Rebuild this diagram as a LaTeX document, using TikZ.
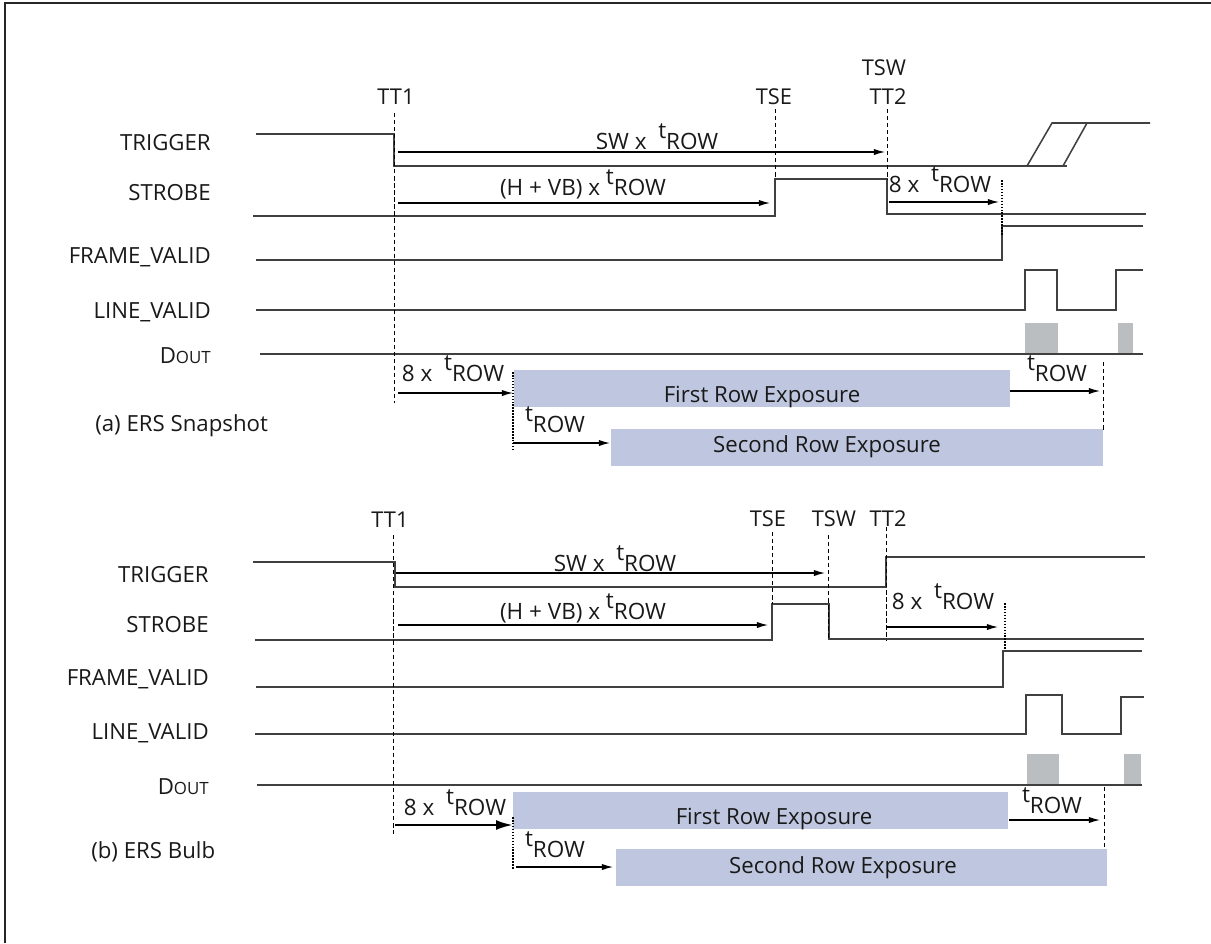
\documentclass[tikz,border=0pt]{standalone}
\usepackage{fontspec}
\setmainfont{Open Sans}
\usetikzlibrary{arrows.meta,positioning}
\definecolor{expblue}{HTML}{BFC7E0}
\definecolor{datgray}{HTML}{BBBEC0}
\newcommand{\trow}{\raisebox{0.85ex}{t}ROW}
\newcommand{\dout}{D{\fontsize{12}{14}\selectfont OUT}}

\begin{document}
\begin{tikzpicture}[x=0.025cm, y=-0.025cm, >={Latex[length=8pt,width=4.5pt]},
  every node/.style={inner sep=0pt, font=\fontsize{15.8}{19}\selectfont, text=black!90},
  signame/.style={anchor=base east},
  timelab/.style={anchor=base, font=\fontsize{15.5}{18}\selectfont},
  spanlab/.style={anchor=base, font=\fontsize{16}{19}\selectfont},
  wave/.style={draw=black!75, line width=1.1pt},
  timeline/.style={densely dashed, line width=0.6pt},
  endline/.style={densely dotted, line width=1.1pt},
  span/.style={->, line width=0.8pt},
  bigspan/.style={-{Latex[length=12pt,width=7pt]}, line width=1.8pt},
  expo/.style={fill=expblue},
  dat/.style={fill=datgray}]
\useasboundingbox (0,0) rectangle (1211,943);
\draw[line width=1.6pt, black!85] (5,943) -- (5,3) -- (1211,3);

% ---- (a) ERS Snapshot ----
\node[signame] (aTrig) at (211,150) {TRIGGER};
\node[signame] (aStrb) at (211,200) {STROBE};
\node[signame] (aFv) at (211,263) {FRAME\_VALID};
\node[signame] (aLv) at (211,318) {LINE\_VALID};
\node[signame] (aDout) at (211,363) {\dout};
\node[anchor=base west] (aCap) at (95,431) {(a) ERS Snapshot};

\node[timelab] (aTT1) at (396,104) {TT1};
\node[timelab] (aTSE) at (774,104) {TSE};
\node[timelab] (aTSW) at (884,75) {TSW};
\node[timelab] (aTT2) at (888,104) {TT2};

\fill[dat] (1025,323) rectangle (1058,354);
\fill[dat] (1118,323) rectangle (1133,354);
\draw[wave] (256,134) -- (394,134) -- (394,166) -- (1067,166);
\draw[wave] (1027,166) -- (1052,123) -- (1150,123);
\draw[wave] (1063,166) -- (1087,123);
\draw[wave] (253,216) -- (775,216) -- (775,179) -- (887,179) -- (887,214) -- (1146,214);
\draw[wave] (256,260) -- (1002,260) -- (1002,226) -- (1143,226);
\draw[wave] (256,310) -- (1025,310) -- (1025,270) -- (1057,270) -- (1057,310) -- (1116,310) -- (1116,270) -- (1143,270);
\draw[wave] (260,354) -- (1143,354);

\fill[expo] (514,370) rectangle (1010,407);
\fill[expo] (611,429) rectangle (1103,466);
\node[anchor=base] (aFirst) at (762,402) {First Row Exposure};
\node[anchor=base] (aSecond) at (827,452) {Second Row Exposure};

\draw[timeline] (394,113) -- (394,403);
\draw[timeline] (775,109) -- (775,178);
\draw[timeline] (887,109) -- (887,180);
\draw[endline] (1002,180) -- (1002,235);
\draw[endline] (513,372) -- (513,450);
\draw[timeline] (1103,362) -- (1103,432);

\coordinate (aSW0) at (398,152); \coordinate (aSW1) at (885,152);
\coordinate (aHV0) at (398,203); \coordinate (aHV1) at (770,203);
\coordinate (aE0) at (889,202);  \coordinate (aE1) at (999,202);
\coordinate (aR0) at (398,393);  \coordinate (aR1) at (513,393);
\coordinate (aQ0) at (513,443);  \coordinate (aQ1) at (610,443);
\coordinate (aP0) at (1010,391); \coordinate (aP1) at (1100,391);
\draw[span] (aSW0) -- (aSW1);
\draw[span] (aHV0) -- (aHV1);
\draw[span] (aE0) -- (aE1);
\draw[span] (aR0) -- (aR1);
\draw[span] (aQ0) -- (aQ1);
\draw[span] (aP0) -- (aP1);
\node[spanlab] (aSWl) at (657,149) {SW x\ \ \trow};
\node[spanlab] (aHVl) at (583,195) {(H + VB) x \trow};
\node[spanlab] (aEl) at (940,192) {8 x\ \ \trow};
\node[spanlab] (aRl) at (453,381) {8 x\ \ \trow};
\node[spanlab] (aQl) at (555,432) {\trow};
\node[spanlab] (aPl) at (1057,381) {\trow};

% ---- (b) ERS Bulb ----
\node[signame] (bTrig) at (209,582) {TRIGGER};
\node[signame] (bStrb) at (209,632) {STROBE};
\node[signame] (bFv) at (209,685) {FRAME\_VALID};
\node[signame] (bLv) at (209,739) {LINE\_VALID};
\node[signame] (bDout) at (209,794) {\dout};
\node[anchor=base west] (bCap) at (91,858) {(b) ERS Bulb};

\node[timelab] (bTT1) at (390,527) {TT1};
\node[timelab] (bTSE) at (768,526) {TSE};
\node[timelab] (bTSW) at (834,526) {TSW};
\node[timelab] (bTT2) at (888,526) {TT2};

\fill[dat] (1027,754) rectangle (1059,785);
\fill[dat] (1124,754) rectangle (1141,785);
\draw[wave] (253,562) -- (395,562) -- (395,587) -- (886,587) -- (886,557) -- (1145,557);
\draw[wave] (255,640) -- (772,640) -- (772,604) -- (829,604) -- (829,639) -- (1144,639);
\draw[wave] (256,687) -- (1003,687) -- (1003,651) -- (1142,651);
\draw[wave] (255,734) -- (1026,734) -- (1026,695) -- (1062,695) -- (1062,734) -- (1121,734) -- (1121,697) -- (1144,697);
\draw[wave] (257,785) -- (1142,785);

\fill[expo] (513,792) rectangle (1008,829);
\fill[expo] (616,849) rectangle (1107,886);
\node[anchor=base] (bFirst) at (774,824) {First Row Exposure};
\node[anchor=base] (bSecond) at (843,873) {Second Row Exposure};

\draw[timeline] (393,535) -- (393,834);
\draw[timeline] (772,532) -- (772,604);
\draw[timeline] (828,535) -- (828,638);
\draw[timeline] (886,527) -- (886,640);
\draw[endline] (1005,603) -- (1005,650);
\draw[endline] (513,817) -- (513,870);
\draw[timeline] (1104,787) -- (1104,850);

\coordinate (bSW0) at (396,573); \coordinate (bSW1) at (825,573);
\coordinate (bHV0) at (398,625); \coordinate (bHV1) at (768,625);
\coordinate (bE0) at (887,627);  \coordinate (bE1) at (998,627);
\coordinate (bR0) at (395,825);  \coordinate (bR1) at (513,825);
\coordinate (bQ0) at (516,867);  \coordinate (bQ1) at (613,867);
\coordinate (bP0) at (1009,820); \coordinate (bP1) at (1100,820);
\draw[span] (bSW0) -- (bSW1);
\draw[span] (bHV0) -- (bHV1);
\draw[span] (bE0) -- (bE1);
\draw[bigspan] (bR0) -- (bR1);
\draw[span] (bQ0) -- (bQ1);
\draw[span] (bP0) -- (bP1);
\node[spanlab] (bSWl) at (615,571) {SW x\ \ \trow};
\node[spanlab] (bHVl) at (583,619) {(H + VB) x \trow};
\node[spanlab] (bEl) at (943,609) {8 x\ \ \trow};
\node[spanlab] (bRl) at (455,815) {8 x\ \ \trow};
\node[spanlab] (bQl) at (555,857) {\trow};
\node[spanlab] (bPl) at (1052,813) {\trow};
\end{tikzpicture}
\end{document}
